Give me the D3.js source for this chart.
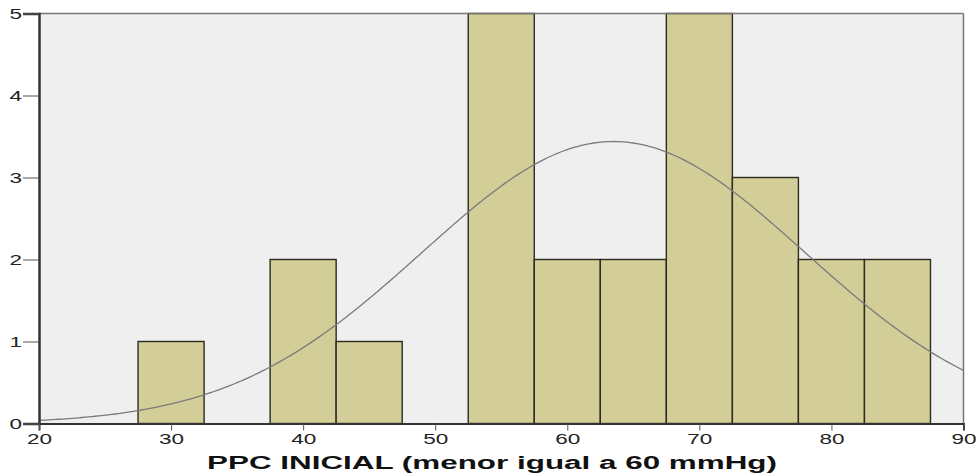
<!DOCTYPE html>
<html><head><meta charset="utf-8">
<script src="https://cdn.jsdelivr.net/npm/d3@7"></script>
<style>body{margin:0;background:#fff}svg{display:block}</style>
</head><body>
<svg id="c" width="976" height="476"></svg>
<script>
const binStarts = [27.5, 37.5, 42.5, 52.5, 57.5, 62.5, 67.5, 72.5, 77.5, 82.5];
const binCounts = [1, 2, 1, 5, 2, 2, 5, 3, 2, 2];
const binWidth = 5;
const xTicks = [20, 30, 40, 50, 60, 70, 80, 90];
const yTicks = [0, 1, 2, 3, 4, 5];
const curveMean = 63.5;
const curveSd = 14.5;
const curveN = 25;
const xTitle = "PPC INICIAL (menor igual a 60 mmHg)";

const svg = d3.select("#c");
const L = 39, R = 963.5, T = 13.5, B = 423.5;
const x = d3.scaleLinear().domain([20, 90]).range([L, R]);
const y = d3.scaleLinear().domain([0, 5]).range([B, T]);

svg.append("rect").attr("x", L).attr("y", T).attr("width", R - L).attr("height", B - T)
  .attr("fill", "#efefef");

svg.append("g").selectAll("rect").data(binStarts).join("rect")
  .attr("x", d => x(d)).attr("width", d => x(d + binWidth) - x(d))
  .attr("y", (d, i) => y(binCounts[i])).attr("height", (d, i) => y(0) - y(binCounts[i]))
  .attr("fill", "#d3ce97").attr("stroke", "#2b2b22").attr("stroke-width", 1.4);

const pts = d3.range(20, 90.01, 0.25).map(v => [v,
  curveN * binWidth / (curveSd * Math.sqrt(2 * Math.PI)) * Math.exp(-0.5 * ((v - curveMean) / curveSd) ** 2)]);
svg.append("path").datum(pts)
  .attr("d", d3.line().x(d => x(d[0])).y(d => y(d[1])))
  .attr("fill", "none").attr("stroke", "#7a7a7a").attr("stroke-width", 1.3);

// borders
svg.append("line").attr("x1", L).attr("x2", R).attr("y1", T).attr("y2", T).attr("stroke", "#777").attr("stroke-width", 1.5);
svg.append("line").attr("x1", R).attr("x2", R).attr("y1", T).attr("y2", B).attr("stroke", "#777").attr("stroke-width", 1.5);

const font = "'Liberation Sans', Arial, sans-serif";
function widen(sel, k) {
  sel.each(function () {
    const w = this.getComputedTextLength();
    d3.select(this).attr("textLength", w * k).attr("lengthAdjust", "spacingAndGlyphs");
  });
}
const yAxis = svg.append("g").attr("transform", `translate(${L},0)`)
  .call(d3.axisLeft(y).tickValues(yTicks).tickFormat(d3.format("d")).tickSize(16).tickPadding(1));
yAxis.select(".domain").attr("stroke", "#333").attr("stroke-width", 2.5);
yAxis.selectAll(".tick line").attr("stroke", "#555");
yAxis.selectAll("text").attr("font-family", font).attr("font-size", 15).attr("fill", "#222").attr("dy", "0.36em");
widen(yAxis.selectAll("text"), 1.5);

const xAxis = svg.append("g").attr("transform", `translate(0,${B})`)
  .call(d3.axisBottom(x).tickValues(xTicks).tickFormat(d3.format("d")).tickSize(7).tickPadding(3));
xAxis.select(".domain").attr("stroke", "#333").attr("stroke-width", 2);
xAxis.selectAll(".tick line").attr("stroke", "#555");
xAxis.selectAll("text").attr("font-family", font).attr("font-size", 15).attr("fill", "#222");
widen(xAxis.selectAll("text"), 1.5);

svg.append("text").attr("x", 492).attr("y", 469).attr("text-anchor", "middle")
  .attr("font-family", font).attr("font-size", 18).attr("font-weight", "bold").attr("fill", "#111")
  .attr("textLength", 570).attr("lengthAdjust", "spacingAndGlyphs")
  .text(xTitle);
</script>
</body></html>
